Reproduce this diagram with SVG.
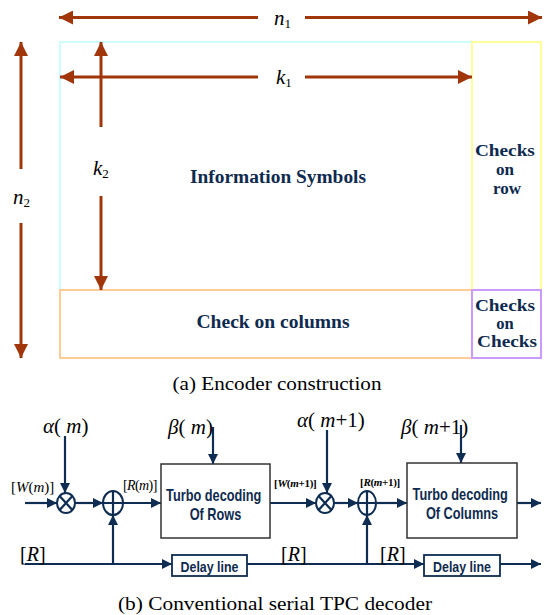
<svg xmlns="http://www.w3.org/2000/svg" width="548" height="615" viewBox="0 0 548 615">
  <style>
    .dim { stroke: #A0360A; stroke-width: 3; fill: none; }
    .math { font-family: "Liberation Serif", "Times New Roman", serif; font-style: italic; fill: #000; }
    .sub { font-style: normal; }
    .blk { font-family: "Liberation Serif", "Times New Roman", serif; font-weight: bold; fill: #0E2A4F; text-anchor: middle; }
    .cap { font-family: "Liberation Serif", "Times New Roman", serif; font-size: 18px; fill: #000; text-anchor: middle; }
    .wire { stroke: #0F2C52; stroke-width: 2.2; fill: none; }
    .box { stroke: #333; stroke-width: 1.5; fill: #fff; }
    .dbox { stroke: #0F2C52; stroke-width: 1.8; fill: #fff; }
    .sans { font-family: "Liberation Sans", Arial, sans-serif; font-weight: bold; fill: #0E2A4F; text-anchor: middle; }
    .op { stroke: #0F2C52; stroke-width: 2; fill: #fff; }
    .ser { font-family: "Liberation Serif", "Times New Roman", serif; fill: #000; }
  </style>
  <defs>
    <marker id="brownHead" markerUnits="userSpaceOnUse" markerWidth="16" markerHeight="14" refX="14" refY="7" orient="auto">
      <path d="M0,0 L14,7 L0,14 Z" fill="#A0360A"/>
    </marker>
    <marker id="navyHead" markerUnits="userSpaceOnUse" markerWidth="12" markerHeight="12" refX="10" refY="5" orient="auto">
      <path d="M0,0 L10,5 L0,10 Z" fill="#0F2C52"/>
    </marker>
  </defs>

  <!-- (a) encoder block layout -->
  <g id="info-block">
    <rect x="60" y="42" width="412" height="248" fill="none" stroke="#CCFFFF" stroke-width="2"/>
    <text class="blk" x="278" y="183" font-size="18" textLength="176" lengthAdjust="spacingAndGlyphs">Information Symbols</text>
  </g>
  <g id="row-checks">
    <rect x="472" y="42" width="69" height="248" fill="none" stroke="#FFFF99" stroke-width="2"/>
    <text class="blk" font-size="17">
      <tspan x="507" y="156" textLength="60" lengthAdjust="spacingAndGlyphs">Checks</tspan>
      <tspan x="507" y="175">on</tspan>
      <tspan x="507" y="194">row</tspan>
    </text>
  </g>
  <g id="column-checks">
    <rect x="60" y="290" width="412" height="68" fill="none" stroke="#FFCC99" stroke-width="2"/>
    <text class="blk" x="273" y="328" font-size="18" textLength="153" lengthAdjust="spacingAndGlyphs">Check on columns</text>
  </g>
  <g id="checks-on-checks">
    <rect x="472" y="290" width="69" height="68" fill="none" stroke="#CC99FF" stroke-width="2"/>
    <text class="blk" font-size="16.5">
      <tspan x="507" y="311" textLength="60" lengthAdjust="spacingAndGlyphs">Checks</tspan>
      <tspan x="507" y="329">on</tspan>
      <tspan x="507" y="347" textLength="60" lengthAdjust="spacingAndGlyphs">Checks</tspan>
    </text>
  </g>

  <!-- dimension arrows -->
  <g id="dimensions">
    <line class="dim" x1="258" y1="17.5" x2="59" y2="17.5" marker-end="url(#brownHead)"/>
    <line class="dim" x1="305" y1="17.5" x2="542" y2="17.5" marker-end="url(#brownHead)"/>
    <line class="dim" x1="258" y1="77" x2="60" y2="77" marker-end="url(#brownHead)"/>
    <line class="dim" x1="305" y1="77" x2="472" y2="77" marker-end="url(#brownHead)"/>
    <line class="dim" x1="21" y1="169" x2="21" y2="42" marker-end="url(#brownHead)"/>
    <line class="dim" x1="21" y1="223" x2="21" y2="358" marker-end="url(#brownHead)"/>
    <line class="dim" x1="101" y1="127" x2="101" y2="42" marker-end="url(#brownHead)"/>
    <line class="dim" x1="101" y1="196" x2="101" y2="290" marker-end="url(#brownHead)"/>
    <text class="math" x="274" y="25" font-size="21">n<tspan class="sub" font-size="13" dy="3">1</tspan></text>
    <text class="math" x="276" y="84" font-size="21">k<tspan class="sub" font-size="13" dy="3">1</tspan></text>
    <text class="math" x="13" y="204" font-size="21">n<tspan class="sub" font-size="13" dy="3">2</tspan></text>
    <text class="math" x="93" y="175" font-size="21">k<tspan class="sub" font-size="13" dy="3">2</tspan></text>
  </g>

  <text class="cap" x="277" y="390" textLength="209" lengthAdjust="spacingAndGlyphs">(a)  Encoder  construction</text>

  <!-- (b) serial TPC decoder -->
  <g id="connectors">
    <line class="wire" x1="25" y1="503" x2="57" y2="503" marker-end="url(#navyHead)"/>
    <line class="wire" x1="65" y1="436" x2="65" y2="493" marker-end="url(#navyHead)"/>
    <line class="wire" x1="75" y1="503" x2="103" y2="503" marker-end="url(#navyHead)"/>
    <line class="wire" x1="123" y1="503" x2="161" y2="503" marker-end="url(#navyHead)"/>
    <line class="wire" x1="213" y1="427" x2="213" y2="464" marker-end="url(#navyHead)"/>
    <line class="wire" x1="25" y1="564" x2="172" y2="564" marker-end="url(#navyHead)"/>
    <line class="wire" x1="113" y1="564" x2="113" y2="515" marker-end="url(#navyHead)"/>
    <line class="wire" x1="270" y1="503" x2="316" y2="503" marker-end="url(#navyHead)"/>
    <line class="wire" x1="327" y1="430" x2="327" y2="493" marker-end="url(#navyHead)"/>
    <line class="wire" x1="334" y1="503" x2="358" y2="503" marker-end="url(#navyHead)"/>
    <line class="wire" x1="376" y1="503" x2="407" y2="503" marker-end="url(#navyHead)"/>
    <line class="wire" x1="461" y1="425" x2="461" y2="463" marker-end="url(#navyHead)"/>
    <line class="wire" x1="517" y1="503" x2="541" y2="503" marker-end="url(#navyHead)"/>
    <line class="wire" x1="247" y1="564" x2="424" y2="564" marker-end="url(#navyHead)"/>
    <line class="wire" x1="367" y1="564" x2="367" y2="515" marker-end="url(#navyHead)"/>
    <line class="wire" x1="500" y1="564" x2="541" y2="564" marker-end="url(#navyHead)"/>
  </g>

  <g id="mult1">
    <ellipse class="op" cx="66" cy="503" rx="9" ry="10"/>
    <path class="wire" d="M59.6,495.9 L72.4,510.1 M72.4,495.9 L59.6,510.1"/>
  </g>
  <g id="add1">
    <ellipse class="op" cx="113" cy="503" rx="10" ry="12"/>
    <path class="wire" d="M103,503 H123 M113,491 V515"/>
  </g>
  <g id="rows-decoder">
    <rect class="box" x="161" y="464" width="109" height="74"/>
    <!-- condensed bold sans caption -->
    <text class="sans" font-size="17" transform="translate(215.5 0) scale(0.75 1)">
      <tspan x="0" y="501">Turbo decoding</tspan>
      <tspan x="0" y="520">Of Rows</tspan>
    </text>
  </g>
  <g id="delay1">
    <rect class="dbox" x="172" y="555" width="75" height="21"/>
    <text class="sans" font-size="15.5" transform="translate(209.5 0) scale(0.8 1)" x="0" y="572.5">Delay line</text>
  </g>
  <g id="mult2">
    <ellipse class="op" cx="325" cy="503" rx="9" ry="10"/>
    <path class="wire" d="M318.6,495.9 L331.4,510.1 M331.4,495.9 L318.6,510.1"/>
  </g>
  <g id="add2">
    <ellipse class="op" cx="367" cy="503" rx="9" ry="12"/>
    <path class="wire" d="M358,503 H376 M367,491 V515"/>
  </g>
  <g id="columns-decoder">
    <rect class="box" x="407" y="463" width="110" height="75"/>
    <text class="sans" font-size="17" transform="translate(462 0) scale(0.75 1)">
      <tspan x="0" y="500">Turbo decoding</tspan>
      <tspan x="0" y="519">Of Columns</tspan>
    </text>
  </g>
  <g id="delay2">
    <rect class="dbox" x="424" y="555" width="76" height="21"/>
    <text class="sans" font-size="15.5" transform="translate(462 0) scale(0.8 1)" x="0" y="572.5">Delay line</text>
  </g>

  <!-- signal labels -->
  <g id="labels">
    <text class="math" x="43" y="433" font-size="21">α<tspan class="sub">( </tspan>m<tspan class="sub">)</tspan></text>
    <text class="math" x="168" y="434" font-size="21">β<tspan class="sub">( </tspan>m<tspan class="sub">)</tspan></text>
    <text class="math" x="297" y="427" font-size="21">α<tspan class="sub">( </tspan>m<tspan class="sub">+1)</tspan></text>
    <text class="math" x="401" y="434" font-size="21">β<tspan class="sub">( </tspan>m<tspan class="sub">+1)</tspan></text>
    <text class="ser" x="11" y="492" font-size="15">[<tspan font-style="italic">W</tspan>(<tspan font-style="italic">m</tspan>)]</text>
    <text class="ser" x="123" y="490" font-size="14" letter-spacing="-0.6">[<tspan font-style="italic">R</tspan>(<tspan font-style="italic">m</tspan>)]</text>
    <text class="ser" x="274" y="487" font-size="11" font-weight="bold" letter-spacing="-0.3">[<tspan font-style="italic">W</tspan>(<tspan font-style="italic">m</tspan>+1)]</text>
    <text class="ser" x="360" y="486" font-size="11" font-weight="bold" letter-spacing="-0.3">[<tspan font-style="italic">R</tspan>(<tspan font-style="italic">m</tspan>+1)]</text>
    <text class="ser" x="20" y="561" font-size="20">[<tspan font-style="italic">R</tspan>]</text>
    <text class="ser" x="281" y="561" font-size="20">[<tspan font-style="italic">R</tspan>]</text>
    <text class="ser" x="380" y="561" font-size="20">[<tspan font-style="italic">R</tspan>]</text>
  </g>

  <text class="cap" x="275" y="610" textLength="314" lengthAdjust="spacingAndGlyphs">(b)  Conventional  serial  TPC  decoder</text>
</svg>
